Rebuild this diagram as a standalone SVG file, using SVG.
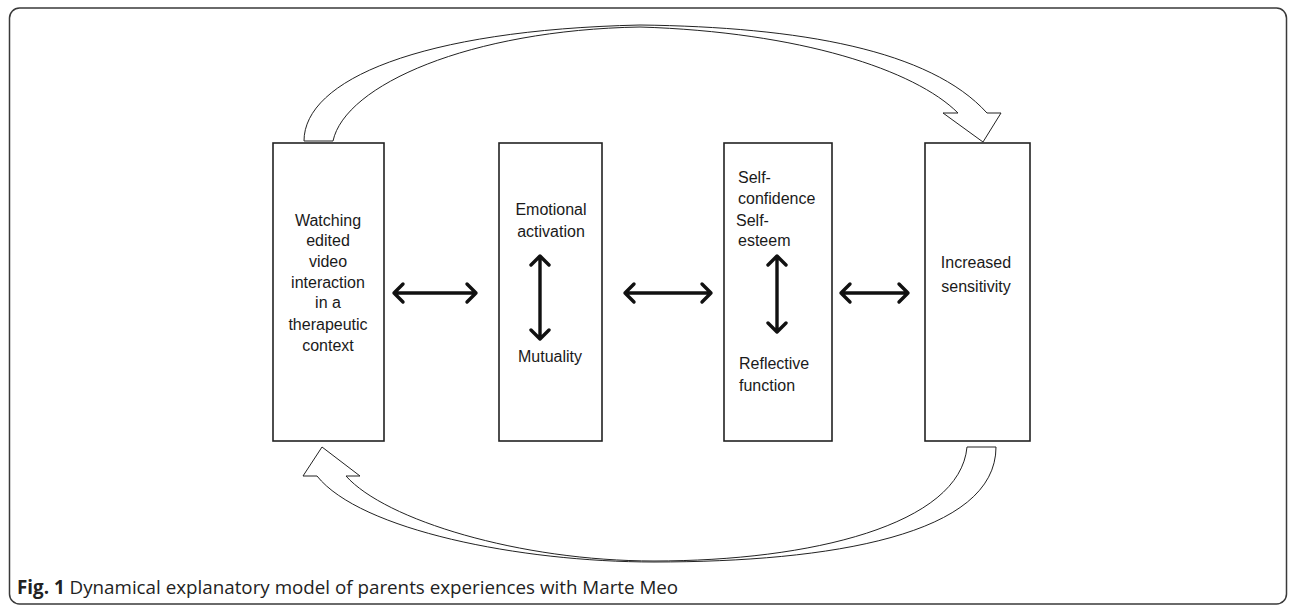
<svg xmlns="http://www.w3.org/2000/svg" width="1293" height="605" viewBox="0 0 1293 605">
<defs>
<style>
.frame{fill:none;stroke:#3a3a3a;stroke-width:1.5}
.box{fill:#fff;stroke:#222;stroke-width:1.6}
.block{fill:#fff;stroke:#222;stroke-width:1}
.dbl{fill:none;stroke:#111;stroke-width:3.4;stroke-linecap:round;stroke-linejoin:round}
.t{font-family:"Liberation Sans",Arial,sans-serif;font-size:16px;fill:#1a1a1a}
.c{text-anchor:middle}
.cap{font-family:"Open Sans","Noto Sans",sans-serif;font-size:18.8px;fill:#222}
</style>
</defs>
<rect class="frame" x="9.5" y="8" width="1277" height="596" rx="10"/>
<g id="node-watching">
<rect class="box" x="273" y="143" width="111" height="298"/>
<text class="t c" x="328" y="226">Watching</text>
<text class="t c" x="328" y="246">edited</text>
<text class="t c" x="328" y="267">video</text>
<text class="t c" x="328" y="288">interaction</text>
<text class="t c" x="328" y="308">in a</text>
<text class="t c" x="328" y="330">therapeutic</text>
<text class="t c" x="328" y="351">context</text>
</g>
<g id="node-emotional">
<rect class="box" x="499" y="143" width="103" height="298"/>
<text class="t c" x="551" y="215">Emotional</text>
<text class="t c" x="551" y="237">activation</text>
<text class="t c" x="550" y="362">Mutuality</text>
</g>
<g id="node-self">
<rect class="box" x="724" y="143" width="108" height="298"/>
<text class="t" x="738" y="183">Self-</text>
<text class="t" x="738" y="204">confidence</text>
<text class="t" x="736" y="226">Self-</text>
<text class="t" x="738" y="246">esteem</text>
<text class="t" x="739" y="369">Reflective</text>
<text class="t" x="739" y="391">function</text>
</g>
<g id="node-sensitivity">
<rect class="box" x="925" y="143" width="105" height="298"/>
<text class="t c" x="976" y="268">Increased</text>
<text class="t c" x="976" y="292">sensitivity</text>
</g>
<g id="connectors">
<path class="block" d="M304,141 C304,80 420,30 640,25 C800,27 930,50 987,113 L1001,113 L983,142 L943,113 L958,113 C915,70 800,32 640,27 C470,30 345,85 333,141 Z"/>
<path class="block" d="M996,447 C996,535 830,562 654,562 C520,562 360,530 317,476 L303,476 L322,447 L360,476 L346,476 C385,520 520,561 654,561 C810,561 960,525 967,447 Z"/>
<g id="arrow-1-2"><path class="dbl" d="M394,293 H476 M403,284 L394,293 L403,302 M467,284 L476,293 L467,302"/></g>
<g id="arrow-2-3"><path class="dbl" d="M625,293 H711 M634,284 L625,293 L634,302 M702,284 L711,293 L702,302"/></g>
<g id="arrow-3-4"><path class="dbl" d="M841,293 H908 M850,284 L841,293 L850,302 M899,284 L908,293 L899,302"/></g>
<g id="arrow-inner-2"><path class="dbl" d="M540,256 V339 M531,265 L540,256 L549,265 M531,330 L540,339 L549,330"/></g>
<g id="arrow-inner-3"><path class="dbl" d="M777,256 V332 M768,265 L777,256 L786,265 M768,323 L777,332 L786,323"/></g>
</g>
<text class="cap" x="17" y="594"><tspan font-weight="bold">Fig. 1</tspan> Dynamical explanatory model of parents experiences with Marte Meo</text>
</svg>
